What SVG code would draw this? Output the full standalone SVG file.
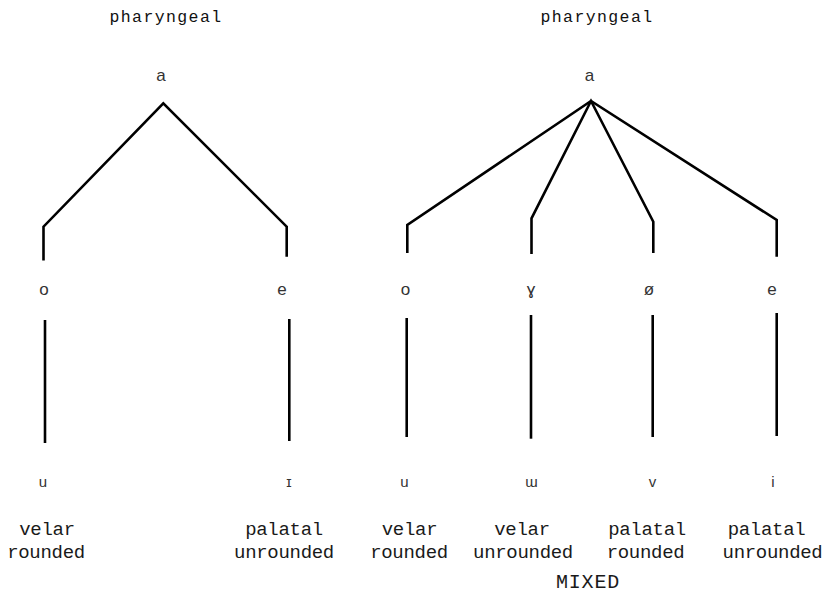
<svg xmlns="http://www.w3.org/2000/svg" width="828" height="594" viewBox="0 0 828 594">
<style>
.hdr{font-family:"Liberation Mono","DejaVu Sans Mono",monospace;font-size:16.5px;letter-spacing:1.4px;fill:#111;text-anchor:middle}
.lbl{font-family:"Liberation Mono","DejaVu Sans Mono",monospace;font-size:19px;letter-spacing:-0.3px;fill:#1a1a1a;text-anchor:middle}
.mix{font-family:"Liberation Mono","DejaVu Sans Mono",monospace;font-size:20px;letter-spacing:0.8px;fill:#1a1a1a;text-anchor:middle}
.v{font-family:"Liberation Sans","DejaVu Sans",sans-serif;font-size:17px;fill:#333;text-anchor:middle}
.v2{font-family:"Liberation Sans","DejaVu Sans",sans-serif;font-size:15px;fill:#333;text-anchor:middle}
.ln{fill:none;stroke:#000;stroke-width:2.6;stroke-linejoin:miter;stroke-linecap:butt}
</style>
<rect width="828" height="594" fill="#fff"/>
<g id="connectors">
<path class="ln" d="M43.5,260.5 V226.7 L163.3,103.3 L286.7,226.7 V256.7"/>
<path class="ln" d="M45,320 V443"/>
<path class="ln" d="M289.3,319 V441"/>
<path class="ln" d="M407.3,253 V225 L591,101 L776.7,220 V256.7"/>
<path class="ln" d="M531.5,254 V218.3 L591,101 L653.3,221.7 V253"/>
<path class="ln" d="M406.7,318 V437"/>
<path class="ln" d="M531,315 V438.7"/>
<path class="ln" d="M652.7,315 V437"/>
<path class="ln" d="M776.7,313 V436"/>
</g>
<g id="left-tree">
<g id="l-head"><text class="hdr" x="166" y="22">pharyngeal</text></g>
<g id="l-a"><text class="v" x="161" y="81">a</text></g>
<g id="l-o"><text class="v" x="44" y="295">o</text></g>
<g id="l-e"><text class="v" x="282" y="295">e</text></g>
<g id="l-u"><text class="v2" x="43" y="487">u</text></g>
<g id="l-i"><text class="v2" x="289" y="487">ɪ</text></g>
<g id="l-lab1"><text class="lbl" x="47" y="535">velar</text><text class="lbl" x="46" y="558">rounded</text></g>
<g id="l-lab2"><text class="lbl" x="284" y="535">palatal</text><text class="lbl" x="284" y="558">unrounded</text></g>
</g>
<g id="right-tree">
<g id="r-head"><text class="hdr" x="597" y="22">pharyngeal</text></g>
<g id="r-a"><text class="v" x="589.5" y="81">a</text></g>
<g id="r-o"><text class="v" x="405.5" y="295">o</text></g>
<g id="r-gamma"><text class="v" x="531" y="295">ɣ</text></g>
<g id="r-oslash"><text class="v" x="649" y="295">ø</text></g>
<g id="r-e"><text class="v" x="772" y="295">e</text></g>
<g id="r-u"><text class="v2" x="404.5" y="487">u</text></g>
<g id="r-w"><text class="v2" x="531.5" y="487">ɯ</text></g>
<g id="r-v"><text class="v2" x="652.5" y="487">v</text></g>
<g id="r-i"><text class="v2" x="773" y="487">i</text></g>
<g id="r-lab1"><text class="lbl" x="409.5" y="535">velar</text><text class="lbl" x="409" y="558">rounded</text></g>
<g id="r-lab2"><text class="lbl" x="522" y="535">velar</text><text class="lbl" x="523" y="558">unrounded</text></g>
<g id="r-lab3"><text class="lbl" x="647" y="535">palatal</text><text class="lbl" x="645.5" y="558">rounded</text></g>
<g id="r-lab4"><text class="lbl" x="766.5" y="535">palatal</text><text class="lbl" x="772.5" y="558">unrounded</text></g>
<g id="mixed"><text class="mix" x="588" y="588">MIXED</text></g>
</g>
</svg>
